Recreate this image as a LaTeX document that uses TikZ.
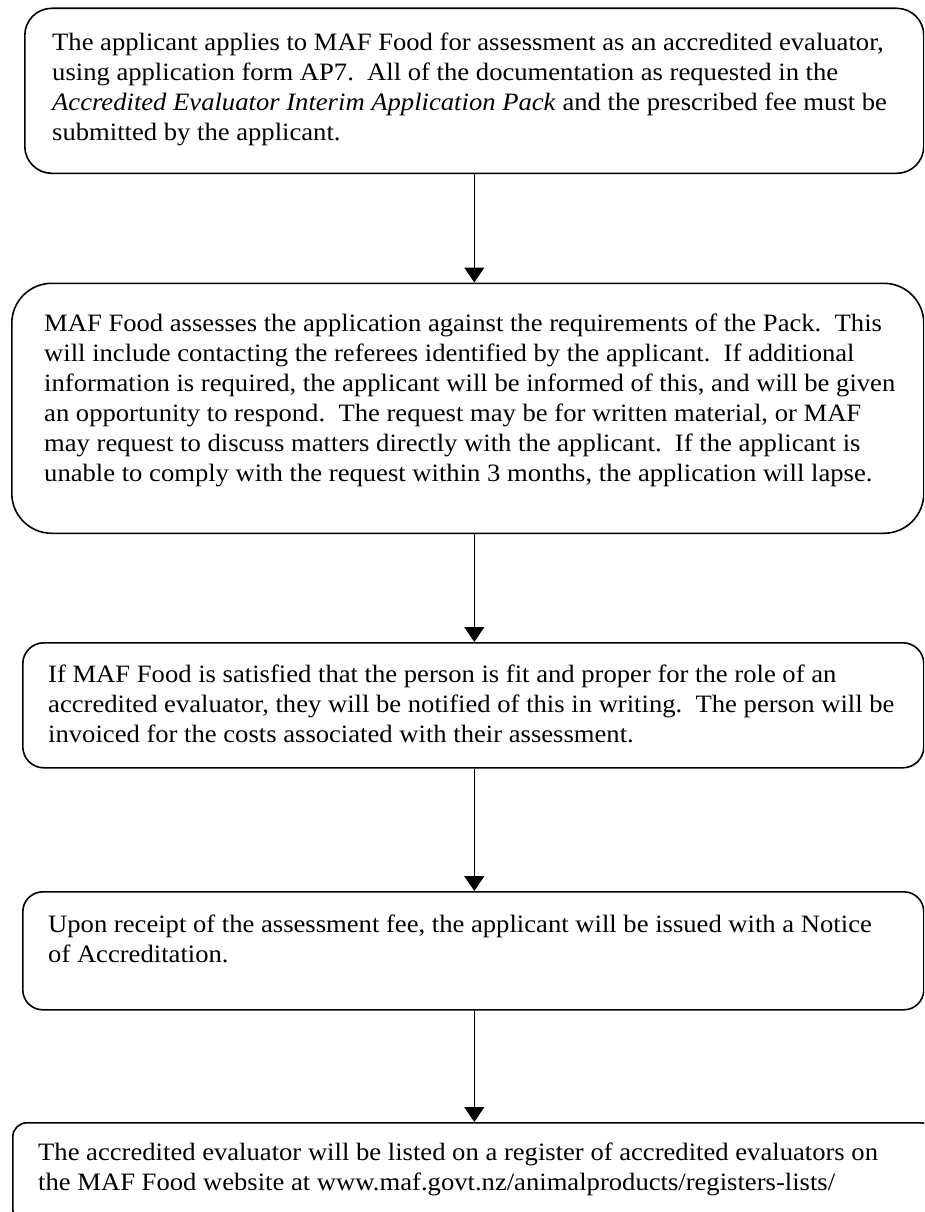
\documentclass[tikz,border=0pt]{standalone}
\usepackage{fontspec}
\setmainfont[FakeStretch=1.065]{Liberation Serif}
\usetikzlibrary{arrows.meta}
\tikzset{
  x=1pt, y=-1pt,
  flowbox/.style={draw=black, line width=1.6pt, rectangle, inner sep=0pt, anchor=north west},
  txt/.style={anchor=north west, inner sep=0pt, align=left, font=\fontsize{25}{30}\selectfont},
  arr/.style={line width=1.3pt, -{Triangle[width=20pt,length=15pt]}}
}
\newcommand{\fs}{\rule{0pt}{20pt}}
\begin{document}
\begin{tikzpicture}
\clip (0,0) rectangle (924,1212);
\fill[white] (0,0) rectangle (924,1212);
% boxes
\node[flowbox, rounded corners=27pt, minimum width=899pt, minimum height=165pt] (b1) at (24,7.5) {};
\node[flowbox, rounded corners=40pt, minimum width=912pt, minimum height=250pt] (b2) at (11,282.5) {};
\node[flowbox, rounded corners=21pt, minimum width=901pt, minimum height=125pt] (b3) at (22,642) {};
\node[flowbox, rounded corners=20pt, minimum width=901pt, minimum height=118pt] (b4) at (22,891) {};
\node[flowbox, rounded corners=14pt, minimum width=922pt, minimum height=100pt] (b5) at (12,1122) {};
% texts
\node[txt] (t1) at (52,30) {\fs The applicant applies to MAF Food for assessment as an accredited evaluator,\\
using application form AP7.\ \ All of the documentation as requested in the\\
\textit{Accredited Evaluator Interim Application Pack} and the prescribed fee must be\\
submitted by the applicant.};
\node[txt] (t2) at (44,311) {\fs MAF Food assesses the application against the requirements of the Pack.\ \ This\\
will include contacting the referees identified by the applicant.\ \ If additional\\
information is required, the applicant will be informed of this, and will be given\\
an opportunity to respond.\ \ The request may be for written material, or MAF\\
may request to discuss matters directly with the applicant.\ \ If the applicant is\\
unable to comply with the request within 3 months, the application will lapse.};
\node[txt] (t3) at (48,662) {\fs If MAF Food is satisfied that the person is fit and proper for the role of an\\
accredited evaluator, they will be notified of this in writing.\ \ The person will be\\
invoiced for the costs associated with their assessment.};
\node[txt] (t4) at (48,912) {\fs Upon receipt of the assessment fee, the applicant will be issued with a Notice\\
of Accreditation.};
\node[txt] (t5) at (38,1140) {\fs The accredited evaluator will be listed on a register of accredited evaluators on\\
the MAF Food website at www.maf.govt.nz/animalproducts/registers-lists/};
% arrows
\draw[arr] (b1.south) -- (b1.south |- b2.north);
\draw[arr] (b2.south -| b1.south) -- (b3.north -| b1.south);
\draw[arr] (b3.south -| b1.south) -- (b4.north -| b1.south);
\draw[arr] (b4.south -| b1.south) -- (b5.north -| b1.south);
\end{tikzpicture}
\end{document}
